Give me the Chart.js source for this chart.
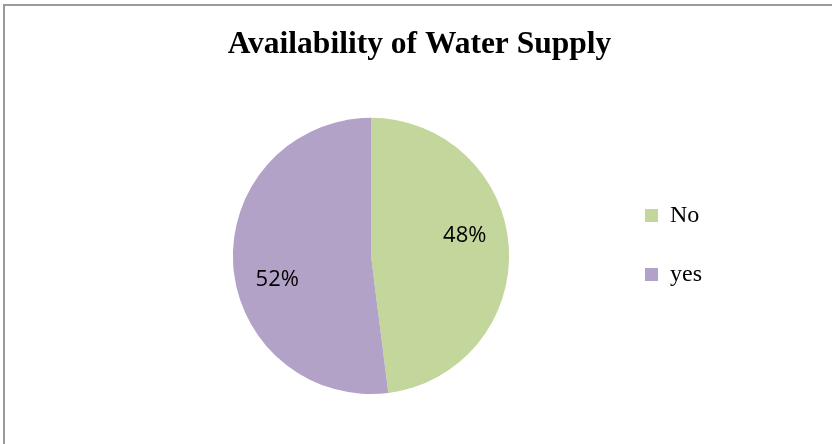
<!DOCTYPE html>
<html>
<head>
<meta charset="utf-8">
<script src="https://cdn.jsdelivr.net/npm/chart.js@4/dist/chart.umd.min.js"></script>
<style>
  html, body { margin: 0; padding: 0; background: #ffffff; }
  #wrap { position: absolute; left: 0; top: 0; width: 832px; height: 444px; }
  #frame { position: absolute; left: 3px; top: 4px; width: 900px; height: 500px;
           border-top: 2px solid #9a9a9a; border-left: 2px solid #9a9a9a; pointer-events: none; }
</style>
</head>
<body>
<div id="wrap"><canvas id="c" width="832" height="444"></canvas></div>
<div id="frame"></div>
<script>
const categories = ['No', 'yes'];
const percentValues = [48, 52];
const sliceColors = ['#C3D69B', '#B3A2C7'];
const chartTitle = 'Availability of Water Supply';

const serif = '"Liberation Serif", "Times New Roman", serif';

const pieLabels = {
  id: 'pieLabels',
  afterDatasetsDraw(chart) {
    const ctx = chart.ctx;
    const meta = chart.getDatasetMeta(0);
    const nudge = [-0.1, 0.128];
    ctx.save();
    ctx.font = '22px "Open Sans", sans-serif';
    ctx.fillStyle = '#000000';
    ctx.textAlign = 'center';
    ctx.textBaseline = 'middle';
    meta.data.forEach((arc, i) => {
      const p = arc.getProps(['x', 'y', 'startAngle', 'endAngle', 'outerRadius'], true);
      const mid = (p.startAngle + p.endAngle) / 2;
      const d = 0.68 * p.outerRadius;
      const x = p.x + Math.cos(mid) * d;
      const y = p.y + Math.sin(mid) * d + nudge[i] * p.outerRadius;
      ctx.fillText(percentValues[i] + '%', x, y);
    });
    ctx.restore();
  }
};

new Chart(document.getElementById('c'), {
  type: 'pie',
  data: {
    labels: categories,
    datasets: [{
      data: percentValues,
      backgroundColor: sliceColors,
      borderWidth: 0
    }]
  },
  options: {
    responsive: false,
    animation: false,
    layout: { padding: { left: 132, right: 125, top: 0, bottom: 50 } },
    plugins: {
      legend: {
        display: true,
        position: 'right',
        align: 'center',
        fullSize: false,
        maxWidth: 97,
        title: { display: true, text: ' ', font: { size: 2, lineHeight: 1 }, padding: { top: -24, bottom: 0 } },
        labels: {
          boxWidth: 13,
          boxHeight: 13,
          padding: 35,
          color: '#000000',
          font: { family: serif, size: 24 }
        }
      },
      tooltip: { enabled: false },
      title: {
        display: true,
        text: chartTitle,
        color: '#000000',
        font: { family: serif, size: 31.5, weight: 'bold', lineHeight: 1.2 },
        padding: { top: 26, bottom: 54 }
      }
    }
  },
  plugins: [pieLabels]
});
</script>
</body>
</html>
